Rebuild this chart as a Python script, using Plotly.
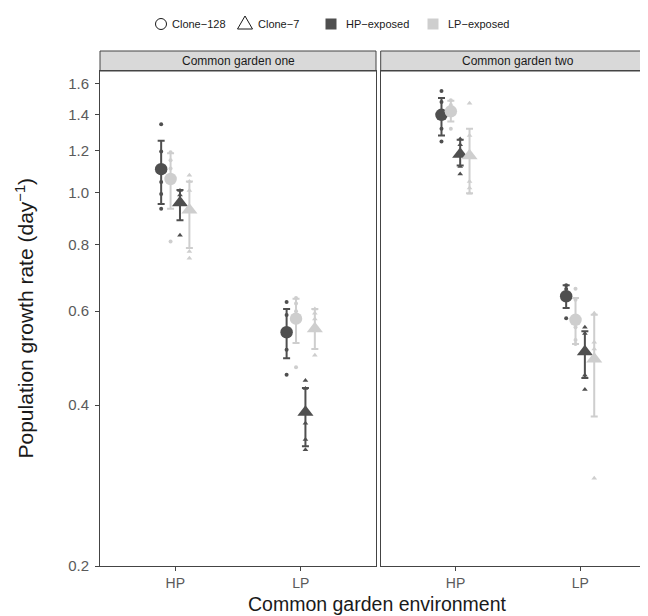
import math
import plotly.graph_objects as go

# ---------------- data ----------------
environments = ["HP", "LP"]
garden_names = ["Common garden one", "Common garden two"]
group_clones = ["Clone-128", "Clone-128", "Clone-7", "Clone-7"]
group_exposures = ["HP-exposed", "LP-exposed", "HP-exposed", "LP-exposed"]
legend_clones = ["Clone\u2212128", "Clone\u22127"]
legend_exposures = ["HP\u2212exposed", "LP\u2212exposed"]
y_tick_values = [0.2, 0.4, 0.6, 0.8, 1.0, 1.2, 1.4, 1.6]
y_tick_labels = ["0.2", "0.4", "0.6", "0.8", "1.0", "1.2", "1.4", "1.6"]

# rows = groups (Clone-128 HP-exp, Clone-128 LP-exp, Clone-7 HP-exp, Clone-7 LP-exp)
# columns = common garden environment [HP, LP]
cg1_mean = [[1.107, 0.548], [1.061, 0.581], [0.958, 0.388], [0.928, 0.556]]
cg1_lower = [[0.952, 0.490], [0.933, 0.523], [0.888, 0.335], [0.788, 0.510]]
cg1_upper = [[1.251, 0.606], [1.186, 0.633], [1.012, 0.431], [1.050, 0.606]]
cg1_points = [
    [[1.344, 1.195, 1.047, 0.994, 0.933], [0.624, 0.590, 0.555, 0.508, 0.456]],
    [[1.19, 1.15, 1.11, 1.07, 0.81], [0.635, 0.62, 0.60, 0.58, 0.471]],
    [[1.01, 0.99, 0.97, 0.95, 0.832], [0.445, 0.43, 0.37, 0.345, 0.33]],
    [[1.078, 1.05, 1.01, 0.776, 0.754], [0.606, 0.595, 0.58, 0.496]],
]

cg2_mean = [[1.399, 0.640], [1.420, 0.578], [1.180, 0.504], [1.173, 0.488]]
cg2_lower = [[1.280, 0.608], [1.360, 0.521], [1.125, 0.450], [0.998, 0.381]]
cg2_upper = [[1.504, 0.671], [1.486, 0.635], [1.256, 0.550], [1.317, 0.591]]
cg2_points = [
    [[1.551, 1.478, 1.40, 1.317, 1.247], [0.671, 0.66, 0.65, 0.64, 0.582]],
    [[1.49, 1.46, 1.43, 1.40, 1.317], [0.661, 0.63, 0.56, 0.53, 0.521]],
    [[1.26, 1.23, 1.18, 1.12, 1.084], [0.56, 0.545, 0.505, 0.455, 0.428]],
    [[1.471, 1.28, 1.05, 1.02, 0.998], [0.595, 0.525, 0.51, 0.495, 0.292]],
]

# ---------------- style ----------------
FONT = "Liberation Sans, Arial, Helvetica, sans-serif"
exposure_color = {"HP-exposed": "#4f4f4f", "LP-exposed": "#cecece"}
clone_symbol = {"Clone-128": "circle", "Clone-7": "triangle-up"}
mean_size = {"Clone-128": 12.5, "Clone-7": 14}
raw_size = {"Clone-128": 4, "Clone-7": 5}
dodge_width = 0.3
n_groups = len(group_clones)
offsets = [(i - (n_groups - 1) / 2) * dodge_width / n_groups for i in range(n_groups)]

panels = [
    (cg1_mean, cg1_lower, cg1_upper, cg1_points, "x", "y"),
    (cg2_mean, cg2_lower, cg2_upper, cg2_points, "x2", "y2"),
]

fig = go.Figure()

# layer 1: raw observations
for means, lows, ups, pts, xa, ya in panels:
    for g in range(n_groups):
        clone, expo = group_clones[g], group_exposures[g]
        xs, ys = [], []
        for e in range(len(environments)):
            for v in pts[g][e]:
                xs.append(e + 1 + offsets[g])
                ys.append(v)
        fig.add_trace(go.Scatter(
            x=xs, y=ys, mode="markers", xaxis=xa, yaxis=ya, showlegend=False,
            name=f"{clone} {expo}",
            marker=dict(symbol=clone_symbol[clone], size=raw_size[clone],
                        color=exposure_color[expo], line=dict(width=0))))

# layer 2: means with error bars
for means, lows, ups, pts, xa, ya in panels:
    for g in range(n_groups):
        clone, expo = group_clones[g], group_exposures[g]
        xs = [e + 1 + offsets[g] for e in range(len(environments))]
        ys = means[g]
        plus = [ups[g][e] - means[g][e] for e in range(len(environments))]
        minus = [means[g][e] - lows[g][e] for e in range(len(environments))]
        fig.add_trace(go.Scatter(
            x=xs, y=ys, mode="markers", xaxis=xa, yaxis=ya, showlegend=False,
            name=f"{clone} {expo} mean",
            marker=dict(symbol=clone_symbol[clone], size=mean_size[clone],
                        color=exposure_color[expo], line=dict(width=0)),
            error_y=dict(type="data", symmetric=False, array=plus, arrayminus=minus,
                         color=exposure_color[expo], thickness=2, width=3.5)))

W, H = 648, 616
ML, MR, MT, MB = 92, 1, 63, 58
pw = W - ML - MR
ph = H - MT - MB


def px_x(px):
    return (px - ML) / pw


def px_y(py):
    return 1 + (MT - py) / ph


dom1 = [0, (368 - ML) / pw]
dom2 = [(372.7 - ML) / pw, 1]

LINE = "#444444"
axis_common = dict(
    range=[0.4, 2.6], tickmode="array", tickvals=[1, 2], ticktext=environments,
    ticks="outside", ticklen=4, tickcolor=LINE, tickwidth=1,
    showline=True, mirror=True, linecolor=LINE, linewidth=1,
    showgrid=False, zeroline=False,
    tickfont=dict(size=14, color="#5a5a5a", family=FONT),
)
yrange = [math.log10(0.2), math.log10(1.69)]

fig.update_layout(
    width=W, height=H,
    margin=dict(l=ML, r=MR, t=MT, b=MB),
    plot_bgcolor="white", paper_bgcolor="white",
    font=dict(family=FONT, color="#1a1a1a"),
    showlegend=False,
    xaxis=dict(domain=dom1, anchor="y", **axis_common),
    xaxis2=dict(domain=dom2, anchor="y2", **axis_common),
    yaxis=dict(type="log", range=yrange, domain=[0, 1], anchor="x",
               tickmode="array", tickvals=y_tick_values, ticktext=y_tick_labels,
               ticks="outside", ticklen=4, tickcolor=LINE, ticklabelstandoff=3,
               showline=True, mirror=True, linecolor=LINE, linewidth=1,
               showgrid=False, zeroline=False,
               tickfont=dict(size=15, color="#5a5a5a", family=FONT)),
    yaxis2=dict(type="log", range=yrange, domain=[0, 1], anchor="x2", matches="y",
                showticklabels=False, ticks="",
                showline=True, mirror=True, linecolor=LINE, linewidth=1,
                showgrid=False, zeroline=False),
)

# ---------------- legend (keys + labels) ----------------
LEG_Y = 16
key_x = [153, 237, 323, 425]
text_x = [162, 248, 336, 438]
legend_labels = legend_clones + legend_exposures
key_kind = ["circle", "triangle", "HP-exposed", "LP-exposed"]
for kx, tx, label, kind in zip(key_x, text_x, legend_labels, key_kind):
    common = dict(xref="paper", yref="paper", xsizemode="pixel", ysizemode="pixel",
                  xanchor=px_x(kx), yanchor=px_y(LEG_Y))
    if kind == "circle":
        fig.add_shape(type="circle", x0=-5.5, x1=5.5, y0=-5.5, y1=5.5,
                      line=dict(color="#1a1a1a", width=1), fillcolor="rgba(0,0,0,0)",
                      **common)
    elif kind == "triangle":
        fig.add_shape(type="path", path="M -7.5,-5 L 7.5,-5 L 0,8 Z",
                      line=dict(color="#1a1a1a", width=1), fillcolor="rgba(0,0,0,0)",
                      **common)
    else:
        fig.add_shape(type="rect", x0=-5.5, x1=5.5, y0=-5.5, y1=5.5,
                      line=dict(width=0), fillcolor=exposure_color[kind], **common)
    fig.add_annotation(text=label, xref="paper", yref="paper", x=px_x(tx), y=px_y(LEG_Y),
                       xanchor="left", yanchor="middle", showarrow=False,
                       font=dict(size=11, color="#1a1a1a", family=FONT))

# ---------------- facet strips ----------------
STRIP_TOP = 43
strip_h = (MT - STRIP_TOP) / ph
for name, xa in zip(garden_names, ["x", "x2"]):
    fig.add_shape(type="rect", xref=f"{xa} domain", yref="paper",
                  x0=0, x1=1, y0=1, y1=1 + strip_h,
                  fillcolor="#d9d9d9", line=dict(color=LINE, width=1), layer="below")
    fig.add_annotation(text=name, xref=f"{xa} domain", yref="paper",
                       x=0.5, y=1 + strip_h / 2, showarrow=False,
                       xanchor="center", yanchor="middle",
                       font=dict(size=12, color="#1a1a1a", family=FONT))

# ---------------- axis titles ----------------
fig.add_annotation(text="Common garden environment", xref="paper", yref="paper",
                   x=0.5, y=px_y(596), showarrow=False,
                   xanchor="center", yanchor="middle",
                   font=dict(size=19.5, color="#1a1a1a", family=FONT))
fig.add_annotation(text="Population growth rate (day<sup>\u22121</sup>)",
                   xref="paper", yref="paper", x=px_x(16), y=0.5,
                   textangle=-90, showarrow=False, xanchor="center", yanchor="middle",
                   font=dict(size=21, color="#1a1a1a", family=FONT))

fig.write_html("out.html")
